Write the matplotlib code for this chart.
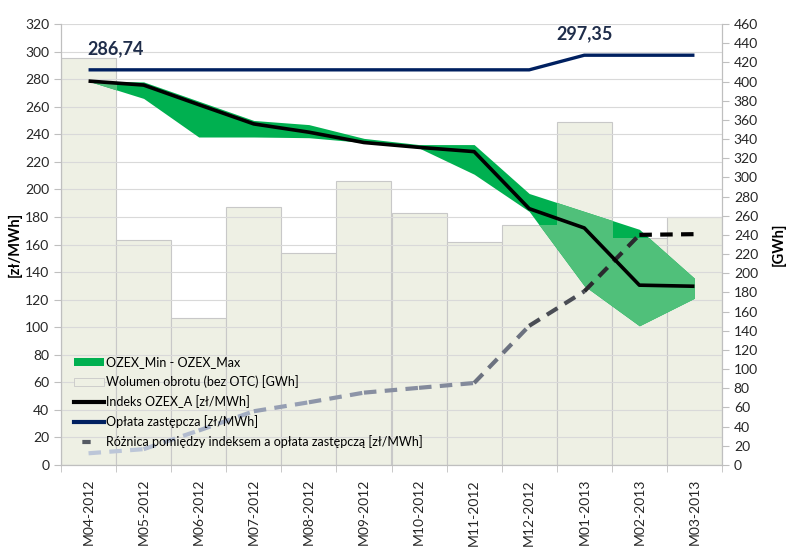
import numpy as np
import matplotlib
matplotlib.use('Agg')
import matplotlib.pyplot as plt
from matplotlib.patches import Patch
from matplotlib.lines import Line2D

plt.rcParams['font.family'] = ['Lato', 'DejaVu Sans']

# DATA

months = ['M04-2012', 'M05-2012', 'M06-2012', 'M07-2012', 'M08-2012', 'M09-2012',
          'M10-2012', 'M11-2012', 'M12-2012', 'M01-2013', 'M02-2013', 'M03-2013']

volume = [425, 235, 153, 269, 221, 296, 263, 233, 250, 358, 237, 259]      # GWh
ozex_min = [278.5, 266, 238, 238, 237.5, 234, 230, 211, 184, 130, 101, 121]
ozex_max = [278.5, 278, 264, 250, 247, 237, 232.5, 232.5, 197, 184, 171, 135.5]
ozex_a = [278.6, 275.7, 261.5, 247.5, 241.5, 234, 230.5, 227.4, 186, 172, 130.5, 129.7]
oplata = [286.74, 286.74, 286.74, 286.74, 286.74, 286.74, 286.74, 286.74, 286.74,
          297.35, 297.35, 297.35]
roznica = [8.5, 11.5, 25, 39, 45.5, 52.5, 56, 59.5, 101, 126, 167, 167.5]

label_first = '286,74'
label_last = '297,35'

# colours of the dashed line, one per segment (light -> dark)
dash_colors = ['#bcc6d8', '#b2bccf', '#a3adc2', '#969fb3', '#8d95a8', '#878ea0',
               '#838a9b', '#6c7280', '#4a4d55', '#2a2a2e', '#000000']

green = '#00b050'
light_green = '#50c07a'
beige = '#eef0e4'
navy = '#002060'

x = np.arange(len(months))

fig = plt.figure(figsize=(7.92, 5.47), dpi=100)
ax = fig.add_axes([61 / 792, 1 - 465 / 547, 661 / 792, 441 / 547])
ax2 = ax.twinx()
ax.set_zorder(ax2.get_zorder() + 1)
ax.patch.set_visible(False)

# volume bars (right axis)
bars = ax2.bar(x, volume, width=1.0, color=beige, edgecolor='#c8c8c8', linewidth=0.8)

# min-max band, dark where outside bars, lighter where on bars
ax.fill_between(x, ozex_min, ozex_max, color=green, lw=0, zorder=2)
for b in bars:
    fb = ax.fill_between(x, ozex_min, ozex_max, color=light_green, lw=0, zorder=2.1)
    fb.set_clip_path(b)

ax.plot(x, oplata, color=navy, lw=2.4, zorder=4, solid_capstyle='butt')
ax.plot(x, ozex_a, color='black', lw=2.6, zorder=5, solid_capstyle='butt')

for i in range(len(x) - 1):
    ax.plot(x[i:i + 2], roznica[i:i + 2], color=dash_colors[i], lw=3,
            linestyle=(0, (3, 2)), zorder=3)

ax.annotate(label_first, (x[0], oplata[0]), xytext=(-1, 9), textcoords='offset points',
            ha='left', va='bottom', fontsize=13, fontweight='bold', color='#1f2d4a')
ax.annotate(label_last, (x[9], oplata[9]), xytext=(0, 9), textcoords='offset points',
            ha='center', va='bottom', fontsize=13, fontweight='bold', color='#1f2d4a')

# axes
ax.set_xlim(-0.5, len(x) - 0.5)
ax.set_ylim(0, 320)
ax2.set_ylim(0, 460)
ax.set_yticks(range(0, 321, 20))
ax2.set_yticks(range(0, 461, 20))
ax.set_xticks(x)
ax.set_xticklabels(months, rotation=90)
ax.set_xticks(np.arange(-0.5, len(x), 1), minor=True)
ax.tick_params(axis='x', which='major', length=0, pad=10)
ax.tick_params(axis='x', which='minor', length=5, color='#bfbfbf')
ax.tick_params(axis='y', length=5, color='#bfbfbf', labelsize=10, labelcolor='#262626')
ax.tick_params(axis='x', labelsize=10, labelcolor='#262626')
ax2.tick_params(axis='y', length=5, color='#bfbfbf', labelsize=10, labelcolor='#262626')

ax.grid(axis='y', color='#d9d9d9', lw=0.8)
ax.set_axisbelow(True)
for a in (ax, ax2):
    a.spines['top'].set_visible(False)
    for s in ('left', 'right', 'bottom'):
        a.spines[s].set_color('#bfbfbf')

ax.set_ylabel('[zł/MWh]', fontsize=10.5, fontweight='bold', labelpad=2)
ax2.set_ylabel('[GWh]', fontsize=10.5, fontweight='bold', labelpad=10)

handles = [
    Patch(facecolor=green, edgecolor='none'),
    Patch(facecolor=beige, edgecolor='#c8c8c8', linewidth=0.6),
    Line2D([], [], color='black', lw=3),
    Line2D([], [], color=navy, lw=3),
    Line2D([], [], color='#555a63', lw=3, linestyle=(4, (2, 4))),
]
labels = ['OZEX_Min - OZEX_Max', 'Wolumen obrotu (bez OTC) [GWh]', 'Indeks OZEX_A [zł/MWh]',
          'Opłata zastępcza [zł/MWh]', 'Różnica pomiędzy indeksem a opłata zastępczą [zł/MWh]']
ax.legend(handles, labels, loc='lower left', bbox_to_anchor=(0.01, 0.025), frameon=False,
          fontsize=9, handlelength=2.4, handleheight=0.6, handletextpad=0.2,
          labelspacing=0.55, borderpad=0)

fig.savefig('out.png', dpi=100)
